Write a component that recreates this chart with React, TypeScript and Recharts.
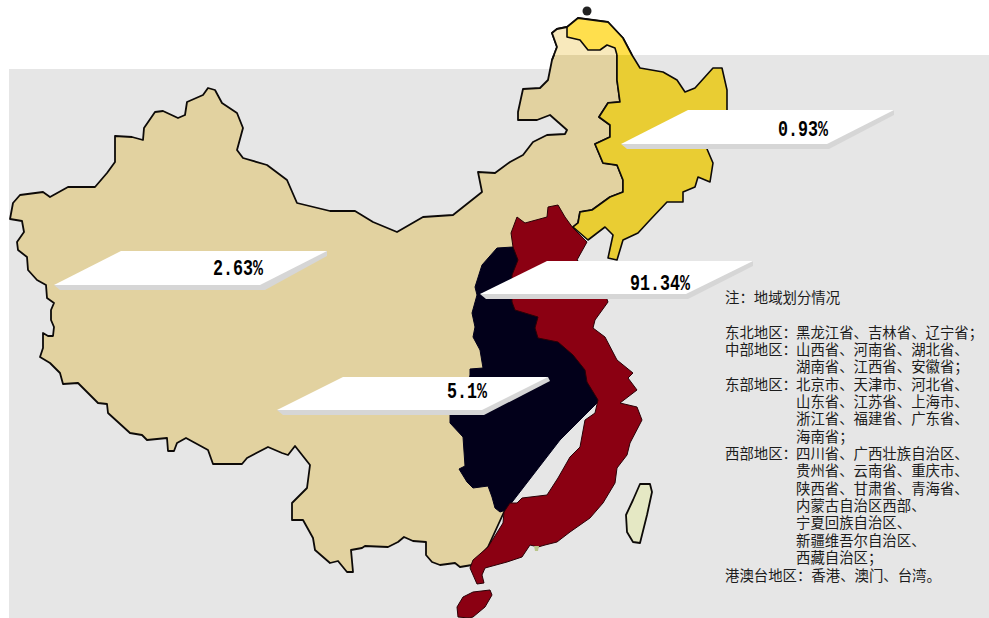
import { Scatter, ScatterChart, XAxis, YAxis } from "recharts";

type Pair = [number, number];

const WIDTH = 989;
const HEIGHT = 618;

const BACKDROP: Pair[] = [[9, 69], [553, 69], [553, 55], [989, 55], [989, 618], [9, 618]];

const WEST_EDGE: Pair[] = [
  [10, 219], [22, 221], [24, 232], [17, 242], [18, 250], [27, 257], [28, 270], [37, 280], [46, 285], [47, 298],
  [54, 303], [51, 310], [51, 320], [54, 327], [53, 336], [48, 336], [43, 333], [43, 348], [40, 357], [50, 363],
  [60, 373], [63, 384], [78, 383], [98, 403], [107, 404], [108, 413], [130, 433], [142, 435], [147, 440], [167, 438],
  [168, 451], [174, 451], [177, 443], [186, 438], [208, 450], [213, 464], [242, 464], [247, 458], [268, 447], [282, 453],
  [288, 455], [295, 446], [310, 465], [307, 488], [292, 503], [292, 520], [303, 520], [313, 538], [315, 550], [330, 563],
  [338, 561], [347, 572], [353, 572], [351, 550], [362, 548], [365, 546], [388, 547], [398, 542], [404, 537], [413, 541],
  [426, 542], [426, 555], [432, 562], [440, 565], [455, 563], [460, 567], [472, 565],
];
const TAN_INNER: Pair[] = [[488, 547], [504, 512], [540, 300]];
const NORTH_WEST_EDGE: Pair[] = [
  [13, 203], [20, 195], [43, 192], [50, 197], [68, 187], [95, 187], [107, 173], [115, 162], [115, 136], [132, 137],
  [143, 140], [144, 128], [155, 112], [163, 111], [178, 118], [185, 115], [187, 102], [203, 95], [208, 88], [215, 90],
  [222, 103], [237, 113], [243, 128], [237, 150], [243, 158], [267, 165], [287, 180], [297, 203], [330, 211], [355, 211],
  [373, 222], [397, 232], [423, 217], [453, 215], [482, 192], [478, 172], [495, 173], [510, 162], [523, 155], [533, 142],
  [547, 135], [565, 134], [567, 130], [550, 115], [537, 120], [518, 120], [518, 112], [523, 89], [540, 88], [548, 80],
  [552, 60],
];
const NORTH_TIP_EDGE: Pair[] = [[552, 60], [557, 47], [552, 33], [557, 29], [567, 27]];
const YELLOW_BORDER_NORTH: Pair[] = [
  [567, 27], [567, 37], [580, 40], [588, 50], [600, 50], [607, 45], [615, 48], [617, 55],
];
const YELLOW_BORDER_SOUTH: Pair[] = [
  [617, 80], [620, 102], [608, 103], [599, 117], [610, 125], [610, 137], [595, 144], [603, 163], [617, 165], [623, 180],
  [623, 192], [610, 197], [592, 210], [580, 212], [578, 223], [573, 227],
];
const YELLOW_EAST_TOP: Pair[] = [[567, 27], [578, 18], [608, 22], [623, 38], [632, 55]];
const YELLOW_EAST_REST: Pair[] = [
  [632, 55], [640, 68], [663, 72], [677, 80], [685, 92], [695, 88], [713, 68], [722, 68], [727, 90], [727, 110],
  [707, 149], [713, 163], [710, 182], [698, 177], [695, 187], [683, 192], [683, 202], [667, 202], [650, 220], [638, 233],
  [623, 240], [617, 260], [608, 258], [613, 235], [605, 227], [588, 240],
];

const BLACK_ZONE: Pair[] = [
  [513, 247], [497, 248], [482, 265], [475, 287], [477, 295], [472, 313], [475, 327], [473, 337], [480, 350], [483, 368],
  [470, 369], [470, 375], [466, 395], [450, 415], [450, 423], [463, 437], [465, 466], [459, 469], [467, 482], [473, 488],
  [488, 486], [492, 497], [495, 508], [500, 512], [506, 510], [560, 440], [600, 400], [560, 280],
];
const RED_ZONE: Pair[] = [
  [511, 233], [517, 217], [525, 223], [547, 217], [548, 207], [558, 205], [565, 217], [573, 228], [587, 242], [577, 260],
  [600, 280], [608, 302], [595, 320], [593, 328], [605, 337], [617, 360], [633, 373], [628, 378], [637, 390], [620, 403],
  [637, 407], [642, 420], [630, 443], [627, 455], [617, 468], [615, 483], [603, 503], [590, 518], [570, 532], [557, 542],
  [545, 545], [538, 547], [530, 545], [522, 557], [507, 562], [485, 568], [482, 575], [484, 583], [477, 584], [470, 568],
  [473, 560], [488, 547], [503, 523], [504, 512], [510, 503], [517, 503], [522, 498], [547, 495], [558, 478], [570, 457],
  [580, 447], [585, 420], [595, 413], [598, 400], [587, 382], [585, 370], [573, 355], [558, 342], [538, 338], [535, 328],
  [538, 317], [515, 310], [512, 302], [512, 275], [518, 260], [513, 247],
];
const HAINAN: Pair[] = [
  [457, 607], [463, 597], [473, 592], [490, 590], [492, 595], [485, 607], [473, 617], [469, 618], [458, 617],
];
const TAIWAN: Pair[] = [
  [640, 484], [650, 484], [652, 492], [647, 515], [640, 543], [633, 542], [627, 532], [626, 515], [633, 500],
];
const PRD_SPOT: Pair[] = [[534, 546], [539, 546], [538, 551], [535, 551]];
const NORTH_DOT: Pair[] = [[587, 11]];

const LABEL_VALUES = ["0.93%", "91.34%", "2.63%", "5.1%"];
const LABEL_ANCHORS: Pair[] = [[778, 136], [630, 290], [213, 275], [447, 398]];
const LABEL_TOPS: Pair[][] = [
  [[621, 144], [688, 110], [894, 110], [827, 144]],
  [[480, 294], [547, 261], [753, 261], [686, 294]],
  [[54, 285], [121, 251], [327, 251], [260, 285]],
  [[277, 410], [343, 377], [548, 377], [482, 410]],
];
const LABEL_SHADOWS: Pair[][] = [
  [[621, 144], [627, 149], [829, 149], [894, 115], [894, 110]],
  [[480, 294], [486, 299], [688, 299], [753, 266], [753, 261]],
  [[54, 285], [60, 290], [265, 290], [327, 256], [327, 251]],
  [[277, 410], [283, 415], [484, 415], [550, 381], [548, 377]],
];

const NOTE_TITLE = "注：地域划分情况";
const NOTE_HEADS = [
  "东北地区：", "中部地区：", "", "东部地区：", "", "", "", "西部地区：", "", "", "", "", "", "", "",
];
const NOTE_BODIES = [
  "黑龙江省、吉林省、辽宁省；",
  "山西省、河南省、湖北省、",
  "湖南省、江西省、安徽省；",
  "北京市、天津市、河北省、",
  "山东省、江苏省、上海市、",
  "浙江省、福建省、广东省、",
  "海南省；",
  "四川省、广西壮族自治区、",
  "贵州省、云南省、重庆市、",
  "陕西省、甘肃省、青海省、",
  "内蒙古自治区西部、",
  "宁夏回族自治区、",
  "新疆维吾尔自治区、",
  "西藏自治区；",
];
const NOTE_LAST = "港澳台地区：香港、澳门、台湾。";

const OUTLINE = "#0d0a08";
const TAN = "#E2D2A0";
const TAN_LIGHT = "#F8E9BC";
const YELLOW = "#E9CD33";
const YELLOW_LIGHT = "#FFDF4D";
const RED = "#8B0012";
const NAVY = "#02001A";
const GREY = "#E6E6E6";
const SHADOW = "#D6D6D6";

const toPoints = (pairs: Pair[]) => pairs.map(([x, y]) => ({ x, y }));

const noDot = () => <g />;

function shapeLine(fill: string, stroke: string, strokeWidth: number, closed = true) {
  return (props: { points?: Array<{ x: number; y: number }> }) => {
    const pts = props.points ?? [];
    const d = pts.map((p, i) => `${i === 0 ? "M" : "L"}${p.x},${p.y}`).join(" ") + (closed ? " Z" : "");
    return <path d={d} fill={fill} stroke={stroke} strokeWidth={strokeWidth} strokeLinejoin="round" />;
  };
}

function region(key: string, pairs: Pair[], fill: string, stroke = "none", strokeWidth = 0, closed = true) {
  return (
    <Scatter
      key={key}
      data={toPoints(pairs)}
      shape={noDot}
      line={shapeLine(fill, stroke, strokeWidth, closed)}
      isAnimationActive={false}
    />
  );
}

function renderLabel(text: string) {
  return (props: { cx?: number; cy?: number }) => (
    <text
      x={props.cx}
      y={props.cy}
      fontFamily="'Liberation Mono', monospace"
      fontWeight={700}
      fontSize={22}
      fill="#000"
      textLength={text.length * 10}
      lengthAdjust="spacingAndGlyphs"
    >
      {text}
    </text>
  );
}

const TAN_BODY: Pair[] = [
  ...WEST_EDGE,
  ...TAN_INNER,
  ...YELLOW_BORDER_SOUTH.slice().reverse(),
  ...YELLOW_BORDER_NORTH.slice().reverse(),
  ...NORTH_TIP_EDGE.slice().reverse(),
  ...NORTH_WEST_EDGE.slice().reverse(),
];
const YELLOW_BODY: Pair[] = [
  ...YELLOW_EAST_TOP,
  ...YELLOW_EAST_REST,
  ...YELLOW_BORDER_SOUTH.slice().reverse(),
  [617, 55],
  ...YELLOW_BORDER_NORTH.slice().reverse(),
];
const TAN_CAP: Pair[] = [[553, 55], ...NORTH_TIP_EDGE.slice(1), ...YELLOW_BORDER_NORTH];
const YELLOW_CAP: Pair[] = [...YELLOW_EAST_TOP, ...YELLOW_BORDER_NORTH.slice().reverse()];

export default function App() {
  return (
    <div style={{ position: "absolute", left: 0, top: 0, width: WIDTH, height: HEIGHT, background: "#fff" }}>
      <ScatterChart width={WIDTH} height={HEIGHT} margin={{ top: 0, right: 0, bottom: 0, left: 0 }}>
        <XAxis type="number" dataKey="x" domain={[0, WIDTH]} hide allowDataOverflow />
        <YAxis type="number" dataKey="y" domain={[0, HEIGHT]} reversed hide allowDataOverflow width={0} />
        {region("backdrop", BACKDROP, GREY)}
        {region("tan", TAN_BODY, TAN, OUTLINE, 1.8)}
        {region("yellow", YELLOW_BODY, YELLOW, OUTLINE, 1.6)}
        {region("tan-cap", TAN_CAP, TAN_LIGHT)}
        {region("yellow-cap", YELLOW_CAP, YELLOW_LIGHT)}
        {region("edge-a", NORTH_TIP_EDGE, "none", OUTLINE, 1.8, false)}
        {region("edge-b", YELLOW_BORDER_NORTH, "none", OUTLINE, 1.6, false)}
        {region("edge-c", YELLOW_EAST_TOP, "none", OUTLINE, 1.8, false)}
        {region("navy", BLACK_ZONE, NAVY, NAVY, 1)}
        {region("red", RED_ZONE, RED, "#2a0006", 1)}
        {region("hainan", HAINAN, RED, "#2a0006", 1)}
        {region("spot", PRD_SPOT, "#B9C58A")}
        {region("taiwan", TAIWAN, "#E5E8C4", OUTLINE, 1.8)}
        <Scatter data={toPoints(NORTH_DOT)} fill="#222" shape={{ type: "circle" } as never} isAnimationActive={false} />
        {LABEL_SHADOWS.map((s, i) => region(`shadow-${i}`, s, SHADOW))}
        {LABEL_TOPS.map((s, i) => region(`top-${i}`, s, "#fff"))}
        {LABEL_VALUES.map((text, i) => (
          <Scatter
            key={text}
            data={toPoints([LABEL_ANCHORS[i]])}
            shape={renderLabel(text)}
            isAnimationActive={false}
          />
        ))}
      </ScatterChart>
      <div
        style={{
          position: "absolute",
          left: 725,
          top: 288,
          fontFamily: "'Noto Sans CJK SC', sans-serif",
          fontSize: 14.4,
          lineHeight: "17.35px",
          color: "#1c1c1c",
          whiteSpace: "nowrap",
        }}
      >
        <div style={{ height: 34.7 }}>{NOTE_TITLE}</div>
        {NOTE_BODIES.map((body, i) => (
          <div key={body}>
            <span style={{ display: "inline-block", width: 71 }}>{NOTE_HEADS[i]}</span>
            {body}
          </div>
        ))}
        <div>{NOTE_LAST}</div>
      </div>
    </div>
  );
}
